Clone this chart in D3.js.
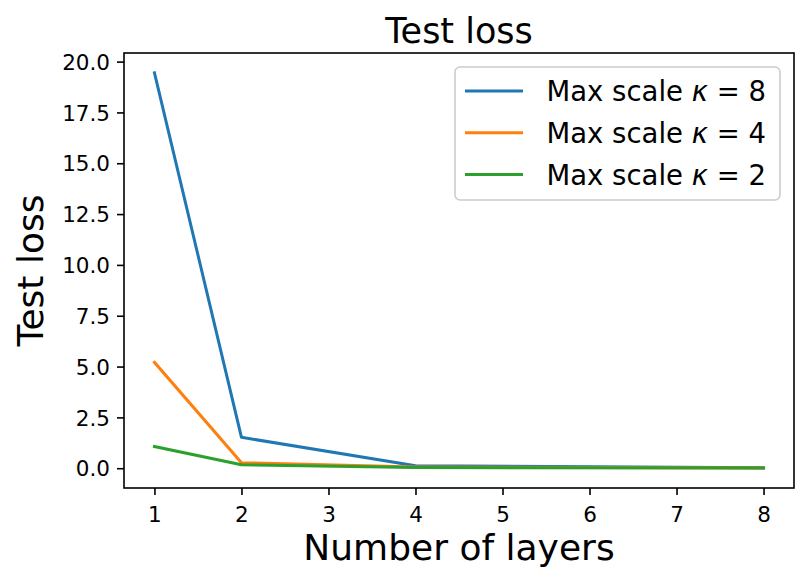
<!DOCTYPE html>
<html>
<head>
<meta charset="utf-8">
<script src="https://cdn.jsdelivr.net/npm/d3@7"></script>
<style>
  body { margin: 0; background: #fff; }
  svg { display: block; font-family: "DejaVu Sans", sans-serif; }
</style>
</head>
<body>
<div id="chart"></div>
<script>
// layers on the x axis
const layers = [1, 2, 4, 8];

// test loss per max scale
const lossK8 = [19.45, 1.52, 0.12, 0.02];
const lossK4 = [5.21, 0.27, 0.06, 0.01];
const lossK2 = [1.07, 0.17, 0.03, 0.01];

const seriesNames = ["8", "4", "2"];
const seriesColors = ["#1f77b4", "#ff7f0e", "#2ca02c"];
const xTicks = [1, 2, 3, 4, 5, 6, 7, 8];
const yTicks = [0, 2.5, 5, 7.5, 10, 12.5, 15, 17.5, 20];

const W = 807, H = 582;
const margin = {top: 53, right: 13, bottom: 94, left: 124};
const width = W - margin.left - margin.right;
const height = H - margin.top - margin.bottom;

const series = [lossK8, lossK4, lossK2].map((vals, i) => ({
  name: seriesNames[i],
  color: seriesColors[i],
  values: vals.map((v, j) => ({x: layers[j], y: v}))
}));

const svg = d3.select("#chart").append("svg")
  .attr("width", W)
  .attr("height", H);

const g = svg.append("g")
  .attr("transform", `translate(${margin.left},${margin.top})`);

// matplotlib-ish 5% padding
const xMin = d3.min(layers), xMax = d3.max(layers);
const xPad = (xMax - xMin) * 0.05;
const allY = [].concat(lossK8, lossK4, lossK2);
const yMin = Math.min(0, d3.min(allY)), yMax = d3.max(allY);
const yPad = (yMax - yMin) * 0.05;

const x = d3.scaleLinear()
  .domain([xMin - xPad, xMax + xPad])
  .range([0, width]);

const y = d3.scaleLinear()
  .domain([yMin - yPad, yMax + yPad])
  .range([height, 0]);

// axes
const xAxis = g.append("g")
  .attr("transform", `translate(0,${height})`)
  .call(d3.axisBottom(x).tickValues(xTicks).tickFormat(d3.format("d")).tickSize(7).tickPadding(7));

const yAxis = g.append("g")
  .call(d3.axisLeft(y).tickValues(yTicks).tickFormat(d3.format(".1f")).tickSize(7).tickPadding(7));

[xAxis, yAxis].forEach(ax => {
  ax.select(".domain").remove();
  ax.selectAll(".tick line").attr("stroke", "#000").attr("stroke-width", 1.6);
  ax.selectAll(".tick text")
    .attr("fill", "#000")
    .style("font-size", "21.5px")
    .style("font-family", "DejaVu Sans, sans-serif");
});
xAxis.selectAll(".tick text").attr("dy", "0.95em");
yAxis.selectAll(".tick text").attr("dy", "0.36em");

// lines
const line = d3.line()
  .x(d => x(d.x))
  .y(d => y(d.y));

g.selectAll(".series")
  .data(series)
  .enter().append("path")
  .attr("class", "series")
  .attr("fill", "none")
  .attr("stroke", d => d.color)
  .attr("stroke-width", 3)
  .attr("stroke-linejoin", "round")
  .attr("stroke-linecap", "square")
  .attr("d", d => line(d.values));

// frame
g.append("rect")
  .attr("width", width)
  .attr("height", height)
  .attr("fill", "none")
  .attr("stroke", "#000")
  .attr("stroke-width", 1.6);

// title and labels
svg.append("text")
  .attr("x", margin.left + width / 2)
  .attr("y", 42.5)
  .attr("text-anchor", "middle")
  .style("font-size", "35px")
  .text("Test loss");

svg.append("text")
  .attr("x", margin.left + width / 2)
  .attr("y", 560)
  .attr("text-anchor", "middle")
  .style("font-size", "36px")
  .text("Number of layers");

svg.append("text")
  .attr("transform", `translate(42.5,${margin.top + height / 2}) rotate(-90)`)
  .attr("text-anchor", "middle")
  .style("font-size", "36px")
  .text("Test loss");

// legend
const legend = svg.append("g").attr("transform", "translate(455,67)");

legend.append("rect")
  .attr("width", 325)
  .attr("height", 133)
  .attr("rx", 5)
  .attr("fill", "#fff")
  .attr("fill-opacity", 0.8)
  .attr("stroke", "#cccccc")
  .attr("stroke-width", 1.6);

const items = legend.selectAll(".item")
  .data(series)
  .enter().append("g")
  .attr("transform", (d, i) => `translate(0,${24 + i * 41.8})`);

items.append("line")
  .attr("x1", 10).attr("x2", 68)
  .attr("stroke", d => d.color)
  .attr("stroke-width", 3);

const label = items.append("text")
  .attr("x", 91.5)
  .attr("y", 10)
  .style("font-size", "27.5px");

label.append("tspan").text("Max scale ");
label.append("tspan").style("font-style", "italic").text("κ");
label.append("tspan").text(d => " = " + d.name);
</script>
</body>
</html>
